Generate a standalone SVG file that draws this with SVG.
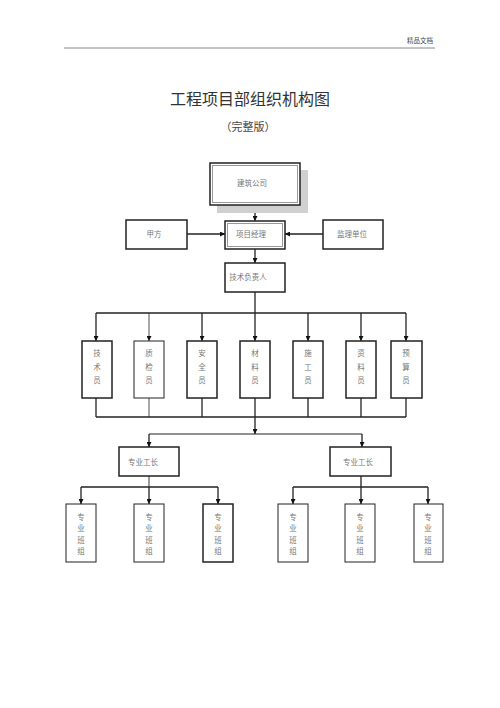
<svg xmlns="http://www.w3.org/2000/svg" width="500" height="708" viewBox="0 0 500 708">
<defs>
<marker id="ah" viewBox="0 0 10 10" refX="10" refY="5" markerWidth="5" markerHeight="5" orient="auto" markerUnits="userSpaceOnUse">
<path d="M0,0 L10,5 L0,10 z" fill="#111"/>
</marker>
<style>
.bx{fill:#fff;stroke:#222;stroke-width:1.5}
.in{fill:none;stroke:#999;stroke-width:1}
.t{font-family:"Noto Sans CJK SC","Noto Sans",sans-serif;font-size:7.5px;fill:#777;text-anchor:middle}
.ln{fill:none;stroke:#222;stroke-width:1.3}
.ar{fill:none;stroke:#222;stroke-width:1.3;marker-end:url(#ah)}
</style>
</defs>
<rect width="500" height="708" fill="#fff"/>
<text x="420" y="43" font-family="'Noto Sans CJK SC',sans-serif" font-size="6.5" fill="#444" text-anchor="middle">精品文档</text>
<line x1="64" y1="48" x2="435" y2="48" stroke="#888" stroke-width="1"/>
<text x="250" y="105" font-family="'Noto Sans CJK SC',sans-serif" font-size="16" fill="#333" text-anchor="middle">工程项目部组织机构图</text>
<text x="248" y="131" font-family="'Noto Sans CJK SC',sans-serif" font-size="11" fill="#444" text-anchor="middle">（完整版）</text>

<g id="connectors">
<line class="ar" x1="255" y1="205" x2="255" y2="221"/>
<line class="ar" x1="187" y1="234" x2="225" y2="234"/>
<line class="ar" x1="323" y1="234" x2="285" y2="234"/>
<line class="ar" x1="255" y1="249" x2="255" y2="263"/>
<line class="ln" x1="255" y1="292" x2="255" y2="313"/>
<line class="ln" x1="96" y1="313" x2="406" y2="313"/>
<line class="ar" x1="96" y1="313" x2="96" y2="341"/>
<line class="ar" x1="149" y1="313" x2="149" y2="341" style="stroke-width:0.8"/>
<line class="ar" x1="202" y1="313" x2="202" y2="341"/>
<line class="ar" x1="255" y1="313" x2="255" y2="341"/>
<line class="ar" x1="308" y1="313" x2="308" y2="341"/>
<line class="ar" x1="361" y1="313" x2="361" y2="341"/>
<line class="ar" x1="406" y1="313" x2="406" y2="341"/>
<line class="ln" x1="96" y1="398" x2="96" y2="417"/>
<line class="ln" x1="149" y1="398" x2="149" y2="417" style="stroke-width:0.8"/>
<line class="ln" x1="202" y1="398" x2="202" y2="417"/>
<line class="ln" x1="255" y1="398" x2="255" y2="417"/>
<line class="ln" x1="308" y1="398" x2="308" y2="417"/>
<line class="ln" x1="361" y1="398" x2="361" y2="417"/>
<line class="ln" x1="406" y1="398" x2="406" y2="417"/>
<line class="ln" x1="96" y1="417" x2="406" y2="417"/>
<line class="ar" x1="255" y1="417" x2="255" y2="434"/>
<line class="ln" x1="149" y1="434" x2="362" y2="434" style="stroke-width:1"/>
<line class="ar" x1="149" y1="434" x2="149" y2="447"/>
<line class="ar" x1="362" y1="434" x2="362" y2="447"/>
<line class="ln" x1="149" y1="476" x2="149" y2="487" style="stroke-width:0.9"/>
<line class="ln" x1="81" y1="487" x2="218" y2="487"/>
<line class="ar" x1="81" y1="487" x2="81" y2="504"/>
<line class="ar" x1="149" y1="487" x2="149" y2="504"/>
<line class="ar" x1="218" y1="487" x2="218" y2="504"/>
<line class="ln" x1="361" y1="476" x2="361" y2="487"/>
<line class="ln" x1="293" y1="487" x2="428" y2="487"/>
<line class="ar" x1="293" y1="487" x2="293" y2="504"/>
<line class="ar" x1="361" y1="487" x2="361" y2="504"/>
<line class="ar" x1="428" y1="487" x2="428" y2="504"/>
</g>

<g id="jianzhu">
<rect x="217" y="170" width="91" height="43" fill="#d0d0d0"/>
<rect class="bx" x="210" y="163" width="90" height="42"/>
<rect class="in" x="212.5" y="165.5" width="85" height="37"/>
<text class="t" x="252" y="186">建筑公司</text>
</g>
<g id="jiafang">
<rect class="bx" x="126" y="220" width="61" height="29"/>
<text class="t" x="154" y="237">甲方</text>
</g>
<g id="xiangmu">
<rect class="bx" x="225" y="221" width="60" height="28"/>
<rect class="in" x="227.5" y="223.5" width="55" height="23"/>
<text class="t" x="251" y="237">项目经理</text>
</g>
<g id="jianli">
<rect class="bx" x="323" y="220" width="60" height="29"/>
<text class="t" x="352" y="237">监理单位</text>
</g>
<g id="jishufuze">
<rect class="bx" x="225" y="263" width="60" height="29"/>
<text class="t" x="248" y="280">技术负责人</text>
</g>

<g id="jishuyuan"><rect class="bx" x="82" y="341" width="30" height="57"/><text class="t" x="97" y="356">技</text><text class="t" x="97" y="370">术</text><text class="t" x="97" y="383">员</text></g>
<g id="zhijian"><rect class="bx" x="134" y="341" width="30" height="57" style="stroke-width:1"/><text class="t" x="149" y="356">质</text><text class="t" x="149" y="370">检</text><text class="t" x="149" y="383">员</text></g>
<g id="anquan"><rect class="bx" x="187" y="341" width="30" height="57"/><text class="t" x="202" y="356">安</text><text class="t" x="202" y="370">全</text><text class="t" x="202" y="383">员</text></g>
<g id="cailiao"><rect class="bx" x="240" y="341" width="30" height="57"/><text class="t" x="255" y="356">材</text><text class="t" x="255" y="370">料</text><text class="t" x="255" y="383">员</text></g>
<g id="shigong"><rect class="bx" x="293" y="341" width="30" height="57"/><text class="t" x="308" y="356">施</text><text class="t" x="308" y="370">工</text><text class="t" x="308" y="383">员</text></g>
<g id="ziliao"><rect class="bx" x="346" y="341" width="30" height="57"/><text class="t" x="361" y="356">资</text><text class="t" x="361" y="370">料</text><text class="t" x="361" y="383">员</text></g>
<g id="yusuan"><rect class="bx" x="391" y="341" width="31" height="57"/><text class="t" x="406" y="356">预</text><text class="t" x="406" y="370">算</text><text class="t" x="406" y="383">员</text></g>

<g id="gongzhang1"><rect class="bx" x="119" y="447" width="60" height="29"/><text class="t" x="143" y="465">专业工长</text></g>
<g id="gongzhang2"><rect class="bx" x="330" y="447" width="61" height="29"/><text class="t" x="358" y="465">专业工长</text></g>

<g id="banzu1"><rect class="bx" x="66" y="504" width="30" height="58" style="stroke-width:1"/><text class="t" x="81" y="520">专</text><text class="t" x="81" y="531">业</text><text class="t" x="81" y="543">班</text><text class="t" x="81" y="554">组</text></g>
<g id="banzu2"><rect class="bx" x="134" y="504" width="30" height="58" style="stroke-width:1"/><text class="t" x="149" y="520">专</text><text class="t" x="149" y="531">业</text><text class="t" x="149" y="543">班</text><text class="t" x="149" y="554">组</text></g>
<g id="banzu3"><rect class="bx" x="203" y="504" width="30" height="58"/><text class="t" x="218" y="520">专</text><text class="t" x="218" y="531">业</text><text class="t" x="218" y="543">班</text><text class="t" x="218" y="554">组</text></g>
<g id="banzu4"><rect class="bx" x="278" y="504" width="30" height="58" style="stroke-width:1"/><text class="t" x="293" y="520">专</text><text class="t" x="293" y="531">业</text><text class="t" x="293" y="543">班</text><text class="t" x="293" y="554">组</text></g>
<g id="banzu5"><rect class="bx" x="345" y="504" width="30" height="58" style="stroke-width:1"/><text class="t" x="360" y="520">专</text><text class="t" x="360" y="531">业</text><text class="t" x="360" y="543">班</text><text class="t" x="360" y="554">组</text></g>
<g id="banzu6"><rect class="bx" x="414" y="504" width="29" height="58" style="stroke-width:1"/><text class="t" x="428" y="520">专</text><text class="t" x="428" y="531">业</text><text class="t" x="428" y="543">班</text><text class="t" x="428" y="554">组</text></g>
</svg>
